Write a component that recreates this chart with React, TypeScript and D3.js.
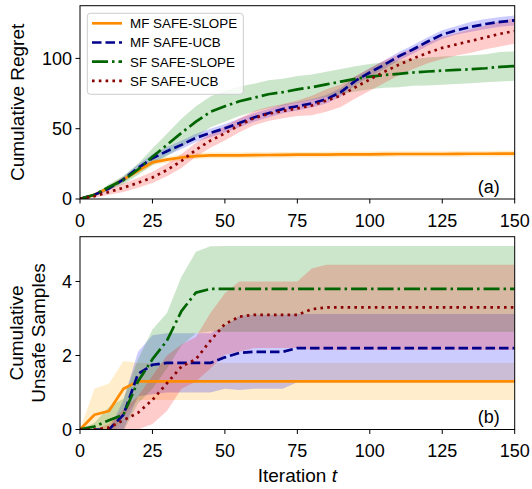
import React from "react";
import * as d3 from "d3";

// iteration grid
const iters = [0, 5, 10, 15, 20, 25, 30, 35, 40, 45, 50, 55, 60, 65, 70, 75, 80, 85, 90, 95, 100, 105, 110, 115, 120, 125, 130, 135, 140, 145, 150];

// (a) cumulative regret, mean and std
const regretMfSlope = [0, 3, 8, 14, 20, 26, 28, 29.5, 30.5, 31, 31, 31, 31.2, 31.3, 31.4, 31.5, 31.5, 31.6, 31.7, 31.8, 31.8, 31.9, 32, 32, 32, 32, 32.1, 32.2, 32.2, 32.3, 32.3];
const regretMfSlopeStd = [0, 1, 1.5, 2, 2, 2, 2, 2, 2, 2, 2, 2, 2, 2, 2, 2, 2, 2, 2, 2, 2, 2, 2, 2, 2, 2, 2, 2, 2, 2, 2];
const regretMfUcb = [0, 3, 7.5, 14, 22, 29, 34, 38.5, 43.5, 47, 50.3, 54, 58, 61, 64, 66, 68, 71, 76, 84, 90, 95.5, 101.5, 106.5, 112, 117, 120, 122.5, 124.5, 126, 127];
const regretMfUcbStd = [0, 1, 1.5, 2, 2.5, 3, 3, 3, 3, 3, 3, 3, 3, 3, 3, 3, 3, 3, 3, 3, 3, 3, 3, 3, 3, 3, 3, 3.5, 3.5, 3.5, 3.5];
const regretSfSlope = [0, 3, 8.5, 13.5, 21, 30, 38.5, 47, 55, 62, 66, 69.5, 72, 74.5, 76, 78, 79.5, 81.5, 83.5, 85.5, 87, 88.2, 89, 90, 90.7, 91.3, 91.8, 92.3, 93, 94, 94.6];
const regretSfSlopeStd = [0, 1, 2, 3, 4, 6, 8, 10, 11, 11, 11, 10.5, 10, 10, 9.5, 9.5, 9, 9, 9, 9, 9, 9, 9.5, 9.5, 10, 10, 10, 10, 10, 10.5, 10.5];
const regretSfUcb = [0, 2, 5, 8, 11.5, 15.3, 20.6, 27, 35, 41.5, 46.7, 52.5, 57.5, 60.5, 62.5, 64.5, 66.5, 70, 73.5, 79.5, 85, 90.5, 95.5, 100, 104, 107.5, 110, 112.5, 115, 117.5, 119.5];
const regretSfUcbStd = [0, 1, 2, 3, 3.5, 4, 4.5, 5, 5, 5, 5, 5, 5, 5, 5, 5.5, 7, 8, 8, 8, 8, 8, 7.5, 7.5, 7.5, 8, 8, 8.5, 8.5, 9, 9];

// (b) cumulative unsafe samples, mean and std
const unsafeMfSlope = [0, 0.4, 0.5, 1.1, 1.3, 1.3, 1.3, 1.3, 1.3, 1.3, 1.3, 1.3, 1.3, 1.3, 1.3, 1.3, 1.3, 1.3, 1.3, 1.3, 1.3, 1.3, 1.3, 1.3, 1.3, 1.3, 1.3, 1.3, 1.3, 1.3, 1.3];
const unsafeMfSlopeStd = [0, 0.7, 0.74, 0.75, 0.5, 0.5, 0.5, 0.5, 0.5, 0.5, 0.5, 0.5, 0.5, 0.5, 0.5, 0.5, 0.5, 0.5, 0.5, 0.5, 0.5, 0.5, 0.5, 0.5, 0.5, 0.5, 0.5, 0.5, 0.5, 0.5, 0.5];
const unsafeMfUcb = [0, 0, 0, 0.4, 1.5, 1.75, 1.8, 1.8, 1.8, 1.8, 1.95, 2.07, 2.1, 2.1, 2.1, 2.2, 2.2, 2.2, 2.2, 2.2, 2.2, 2.2, 2.2, 2.2, 2.2, 2.2, 2.2, 2.2, 2.2, 2.2, 2.2];
const unsafeMfUcbStd = [0, 0, 0, 0.4, 0.6, 0.8, 0.8, 0.8, 0.8, 0.8, 0.85, 1, 1, 1, 1, 0.92, 0.92, 0.92, 0.92, 0.92, 0.92, 0.92, 0.92, 0.92, 0.92, 0.92, 0.92, 0.92, 0.92, 0.92, 0.92];
const unsafeSfSlope = [0, 0.08, 0.25, 0.4, 1.3, 1.9, 2.4, 3.2, 3.7, 3.8, 3.8, 3.8, 3.8, 3.8, 3.8, 3.8, 3.8, 3.8, 3.8, 3.8, 3.8, 3.8, 3.8, 3.8, 3.8, 3.8, 3.8, 3.8, 3.8, 3.8, 3.8];
const unsafeSfSlopeStd = [0, 0.1, 0.36, 0.44, 0.6, 0.8, 0.75, 0.93, 1.1, 1.15, 1.16, 1.16, 1.16, 1.16, 1.16, 1.16, 1.16, 1.16, 1.16, 1.16, 1.16, 1.16, 1.16, 1.16, 1.16, 1.16, 1.16, 1.16, 1.16, 1.16, 1.16];
const unsafeSfUcb = [0, 0, 0.05, 0.25, 0.45, 0.8, 1.25, 1.7, 1.9, 2.4, 2.85, 3.05, 3.1, 3.1, 3.1, 3.1, 3.25, 3.3, 3.3, 3.3, 3.3, 3.3, 3.3, 3.3, 3.3, 3.3, 3.3, 3.3, 3.3, 3.3, 3.3];
const unsafeSfUcbStd = [0, 0, 0.1, 0.3, 0.45, 0.65, 0.75, 0.6, 0.6, 0.75, 0.83, 0.95, 0.9, 0.9, 0.9, 0.9, 1.1, 1.15, 1.15, 1.15, 1.15, 1.15, 1.15, 1.15, 1.15, 1.15, 1.15, 1.15, 1.15, 1.15, 1.15];

const xTicks = [0, 25, 50, 75, 100, 125, 150];
const regretTicks = [0, 50, 100];
const unsafeTicks = [0, 2, 4];

const series = [
  { name: "MF SAFE-SLOPE", line: "#ff8c00", band: "#ffa500", dash: "none", regret: regretMfSlope, regretStd: regretMfSlopeStd, unsafe: unsafeMfSlope, unsafeStd: unsafeMfSlopeStd },
  { name: "MF SAFE-UCB", line: "#00008b", band: "#0000ff", dash: "9.5 4", regret: regretMfUcb, regretStd: regretMfUcbStd, unsafe: unsafeMfUcb, unsafeStd: unsafeMfUcbStd },
  { name: "SF SAFE-SLOPE", line: "#006400", band: "#008000", dash: "16 4 2.5 4", regret: regretSfSlope, regretStd: regretSfSlopeStd, unsafe: unsafeSfSlope, unsafeStd: unsafeSfSlopeStd },
  { name: "SF SAFE-UCB", line: "#8b0000", band: "#ff0000", dash: "2.6 4.2", regret: regretSfUcb, regretStd: regretSfUcbStd, unsafe: unsafeSfUcb, unsafeStd: unsafeSfUcbStd },
];

const W = 532, H = 489;
const FONT = "'Liberation Sans', Arial, Helvetica, sans-serif";
const x = d3.scaleLinear().domain([0, 150]).range([80, 514.7]);

const Panel = ({ id, top, bottom, ymax, ticks, field, tag, label }) => {
  const y = d3.scaleLinear().domain([0, ymax]).range([bottom, top]);
  const line = d3.line().x((d) => x(d[0])).y((d) => y(d[1]));
  const area = d3.area().x((d) => x(d[0])).y0((d) => y(d[1])).y1((d) => y(d[2]));
  return (
    <g>
      <defs>
        <clipPath id={id}>
          <rect x={x(0)} y={top} width={x(150) - x(0)} height={bottom - top} />
        </clipPath>
      </defs>
      <g clipPath={`url(#${id})`}>
        {series.map((s) => {
          const m = s[field], sd = s[field + "Std"];
          const pts = iters.map((t, i) => [t, m[i] - sd[i], m[i] + sd[i]]);
          return <path key={s.name} d={area(pts)} fill={s.band} fillOpacity={0.2} stroke="none" />;
        })}
        {series.map((s) => {
          const m = s[field];
          return (
            <path key={s.name} d={line(iters.map((t, i) => [t, m[i]]))} fill="none" stroke={s.line}
              strokeWidth={2.7} strokeDasharray={s.dash} strokeLinejoin="round" />
          );
        })}
      </g>
      <rect x={x(0)} y={top} width={x(150) - x(0)} height={bottom - top} fill="none" stroke="#000" strokeWidth={1} />
      {xTicks.map((t) => (
        <g key={t}>
          <line x1={x(t)} x2={x(t)} y1={bottom} y2={bottom + 4.5} stroke="#000" strokeWidth={1} />
          <text x={x(t)} y={bottom + 27.5} textAnchor="middle" fontSize={18}>{t}</text>
        </g>
      ))}
      {ticks.map((t) => (
        <g key={t}>
          <line x1={x(0) - 4.5} x2={x(0)} y1={y(t)} y2={y(t)} stroke="#000" strokeWidth={1} />
          <text x={x(0) - 8} y={y(t)} dy="0.36em" textAnchor="end" fontSize={18}>{t}</text>
        </g>
      ))}
      <text x={x(150) - 15} y={bottom - 6.5} textAnchor="end" fontSize={18}>{tag}</text>
      {label}
    </g>
  );
};

const Legend = () => (
  <g>
    <rect x={87.3} y={13.3} width={156} height={81} rx={3} fill="#fff" fillOpacity={0.8} stroke="#cccccc" strokeWidth={1} />
    {series.map((s, i) => {
      const cy = 23.3 + i * 19.2;
      return (
        <g key={s.name}>
          <line x1={92} x2={122} y1={cy} y2={cy} stroke={s.line} strokeWidth={2.7} strokeDasharray={s.dash} />
          <text x={130} y={cy} dy="0.36em" fontSize={13.4}>{s.name}</text>
        </g>
      );
    })}
  </g>
);

export default function App() {
  return (
    <svg width={W} height={H} style={{ display: "block", position: "absolute", left: 0, top: 0 }} fontFamily={FONT}>
      <rect width={W} height={H} fill="#fff" />
      <Panel id="clipA" top={5.7} bottom={199} ymax={137.5} ticks={regretTicks} field="regret" tag="(a)"
        label={<text transform="translate(24,102.4) rotate(-90)" textAnchor="middle" fontSize={19}>Cumulative Regret</text>} />
      <Panel id="clipB" top={236.7} bottom={429.5} ymax={5.21} ticks={unsafeTicks} field="unsafe" tag="(b)"
        label={
          <text transform="translate(0,333) rotate(-90)" textAnchor="middle" fontSize={19}>
            <tspan x={0} y={23}>Cumulative</tspan>
            <tspan x={0} y={45}>Unsafe Samples</tspan>
          </text>
        } />
      <Legend />
      <text x={x(75)} y={481.7} textAnchor="middle" fontSize={19}>
        Iteration <tspan fontStyle="italic">t</tspan>
      </text>
    </svg>
  );
}
